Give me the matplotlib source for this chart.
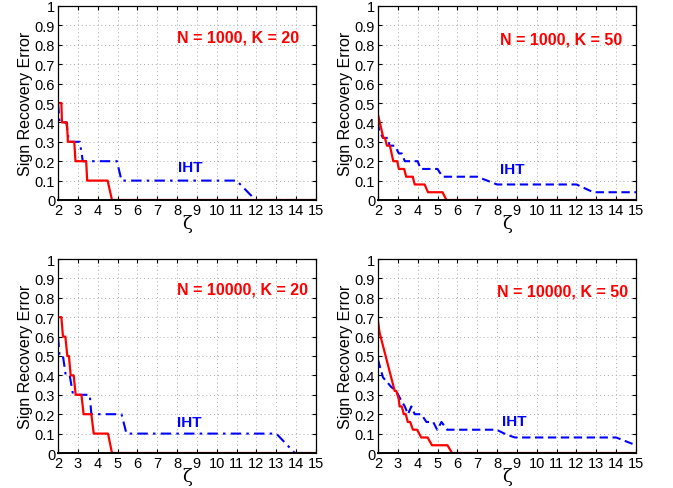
import matplotlib
matplotlib.use("Agg")
import matplotlib.pyplot as plt

plt.rcParams['font.family'] = ['Liberation Sans', 'DejaVu Sans']

# ---- data ----
titles = ["N = 1000, K = 20", "N = 1000, K = 50", "N = 10000, K = 20", "N = 10000, K = 50"]

red_x1 = [2.0, 2.17, 2.2, 2.45, 2.5, 2.82, 2.88, 3.42, 3.47, 4.5, 4.72, 15]
red_y1 = [0.5, 0.5, 0.4, 0.4, 0.3, 0.3, 0.2, 0.2, 0.1, 0.1, 0.0, 0.0]
iht_x1 = [2.0, 2.08, 2.42, 2.55, 3.1, 3.25, 4.97, 5.2, 11.0, 11.95, 15]
iht_y1 = [0.5, 0.4, 0.4, 0.3, 0.3, 0.2, 0.2, 0.1, 0.1, 0.0, 0.0]

red_x2 = [2.0, 2.27, 2.35, 2.45, 2.6, 2.77, 2.97, 3.05, 3.32, 3.42, 3.75, 3.85, 4.35, 4.52, 5.25, 5.45, 15]
red_y2 = [0.44, 0.32, 0.32, 0.28, 0.28, 0.2, 0.2, 0.16, 0.16, 0.12, 0.12, 0.08, 0.08, 0.04, 0.04, 0.0, 0.0]
iht_x2 = [2.0, 2.05, 2.25, 2.5, 2.58, 2.85, 3.05, 3.2, 3.35, 4.0, 4.15, 5.0, 5.25, 7.0, 8.0, 12.0, 12.85, 15]
iht_y2 = [0.40, 0.36, 0.32, 0.32, 0.28, 0.28, 0.24, 0.24, 0.2, 0.2, 0.16, 0.16, 0.12, 0.12, 0.08, 0.08, 0.04, 0.04]

red_x3 = [2.0, 2.17, 2.25, 2.37, 2.47, 2.55, 2.64, 2.79, 2.89, 3.18, 3.29, 3.68, 3.8, 4.52, 4.72, 15]
red_y3 = [0.7, 0.7, 0.6, 0.6, 0.5, 0.5, 0.4, 0.4, 0.3, 0.3, 0.2, 0.2, 0.1, 0.1, 0.0, 0.0]
iht_x3 = [2.0, 2.08, 2.25, 2.39, 2.59, 2.76, 3.6, 3.68, 5.2, 5.45, 13.0, 13.93, 15]
iht_y3 = [0.6, 0.5, 0.5, 0.4, 0.4, 0.3, 0.3, 0.2, 0.2, 0.1, 0.1, 0.0, 0.0]

red_x4 = [2.0, 2.08, 2.84, 2.92, 3.04, 3.09, 3.2, 3.3, 3.4, 3.5, 3.62, 3.76, 3.97, 4.18, 4.5, 4.72, 5.5, 5.73, 15]
red_y4 = [0.68, 0.62, 0.32, 0.32, 0.28, 0.24, 0.24, 0.2, 0.2, 0.16, 0.16, 0.12, 0.12, 0.08, 0.08, 0.04, 0.04, 0.0, 0.0]
iht_x4 = [2.0, 2.25, 2.67, 2.92, 3.12, 3.35, 3.51, 3.68, 3.85, 4.18, 4.44, 4.78, 4.98, 5.2, 5.48, 7.97, 8.47, 8.9, 14.0, 15.0]
iht_y4 = [0.48, 0.39, 0.34, 0.32, 0.28, 0.24, 0.2, 0.24, 0.2, 0.2, 0.16, 0.16, 0.12, 0.16, 0.12, 0.12, 0.095, 0.08, 0.08, 0.04]

xticks = list(range(2, 16))
yticks = [0, 0.1, 0.2, 0.3, 0.4, 0.5, 0.6, 0.7, 0.8, 0.9, 1]
ytick_labels = ["0", "0.1", "0.2", "0.3", "0.4", "0.5", "0.6", "0.7", "0.8", "0.9", "1"]

panels = [
    (red_x1, red_y1, iht_x1, iht_y1, (8.0, 0.84), (8.05, 0.17), "dashdot"),
    (red_x2, red_y2, iht_x2, iht_y2, (8.15, 0.83), (8.15, 0.16), "dashed"),
    (red_x3, red_y3, iht_x3, iht_y3, (8.0, 0.845), (8.0, 0.16), "dashdot"),
    (red_x4, red_y4, iht_x4, iht_y4, (8.0, 0.835), (8.25, 0.165), "dashed"),
]

W, H = 673, 489
fig = plt.figure(figsize=(W / 100, H / 100), dpi=100)
lefts = [58, 378, 58, 378]
tops = [7, 7, 260, 260]
aw, ah = 258, 194

red = "#ff0000"
blue = "#0000ff"

for i, (rx, ry, bx, by, tpos, ipos, bstyle) in enumerate(panels):
    ax = fig.add_axes([lefts[i] / W, 1 - (tops[i] + ah) / H, aw / W, ah / H])
    if bstyle == "dashdot":
        ax.plot(bx, by, color=blue, lw=1.5, dashes=(5, 2.5, 1.2, 2.5), zorder=3)
    else:
        ax.plot(bx, by, color=blue, lw=1.5, dashes=(4, 2.2), zorder=3)
    ax.plot(rx, ry, color=red, lw=1.6, zorder=4)
    ax.set_xlim(2, 15)
    ax.set_ylim(0, 1)
    ax.set_xticks(xticks)
    ax.set_xticklabels([str(t) for t in xticks])
    ax.set_yticks(yticks)
    ax.set_yticklabels(ytick_labels)
    ax.tick_params(direction="in", top=True, right=True, labelsize=10.5, length=3, width=0.8, pad=2)
    ax.grid(True, color="#aaaaaa", linestyle=(0, (1, 3)), linewidth=0.7)
    for s in ax.spines.values():
        s.set_linewidth(0.9)
        s.set_zorder(5)
    ax.spines['bottom'].set_linewidth(1.4)
    ax.set_ylabel("Sign Recovery Error", fontsize=11.5, labelpad=1)
    ax.set_xlabel("ζ", fontsize=13, labelpad=-2, family=["DejaVu Serif"])
    ax.text(tpos[0], tpos[1], titles[i], color=red, fontsize=11.5, fontweight="bold", va="center", ha="left")
    ax.text(ipos[0], ipos[1], "IHT", color=blue, fontsize=11, fontweight="bold", va="center", ha="left")

fig.savefig("out.png", dpi=100)
